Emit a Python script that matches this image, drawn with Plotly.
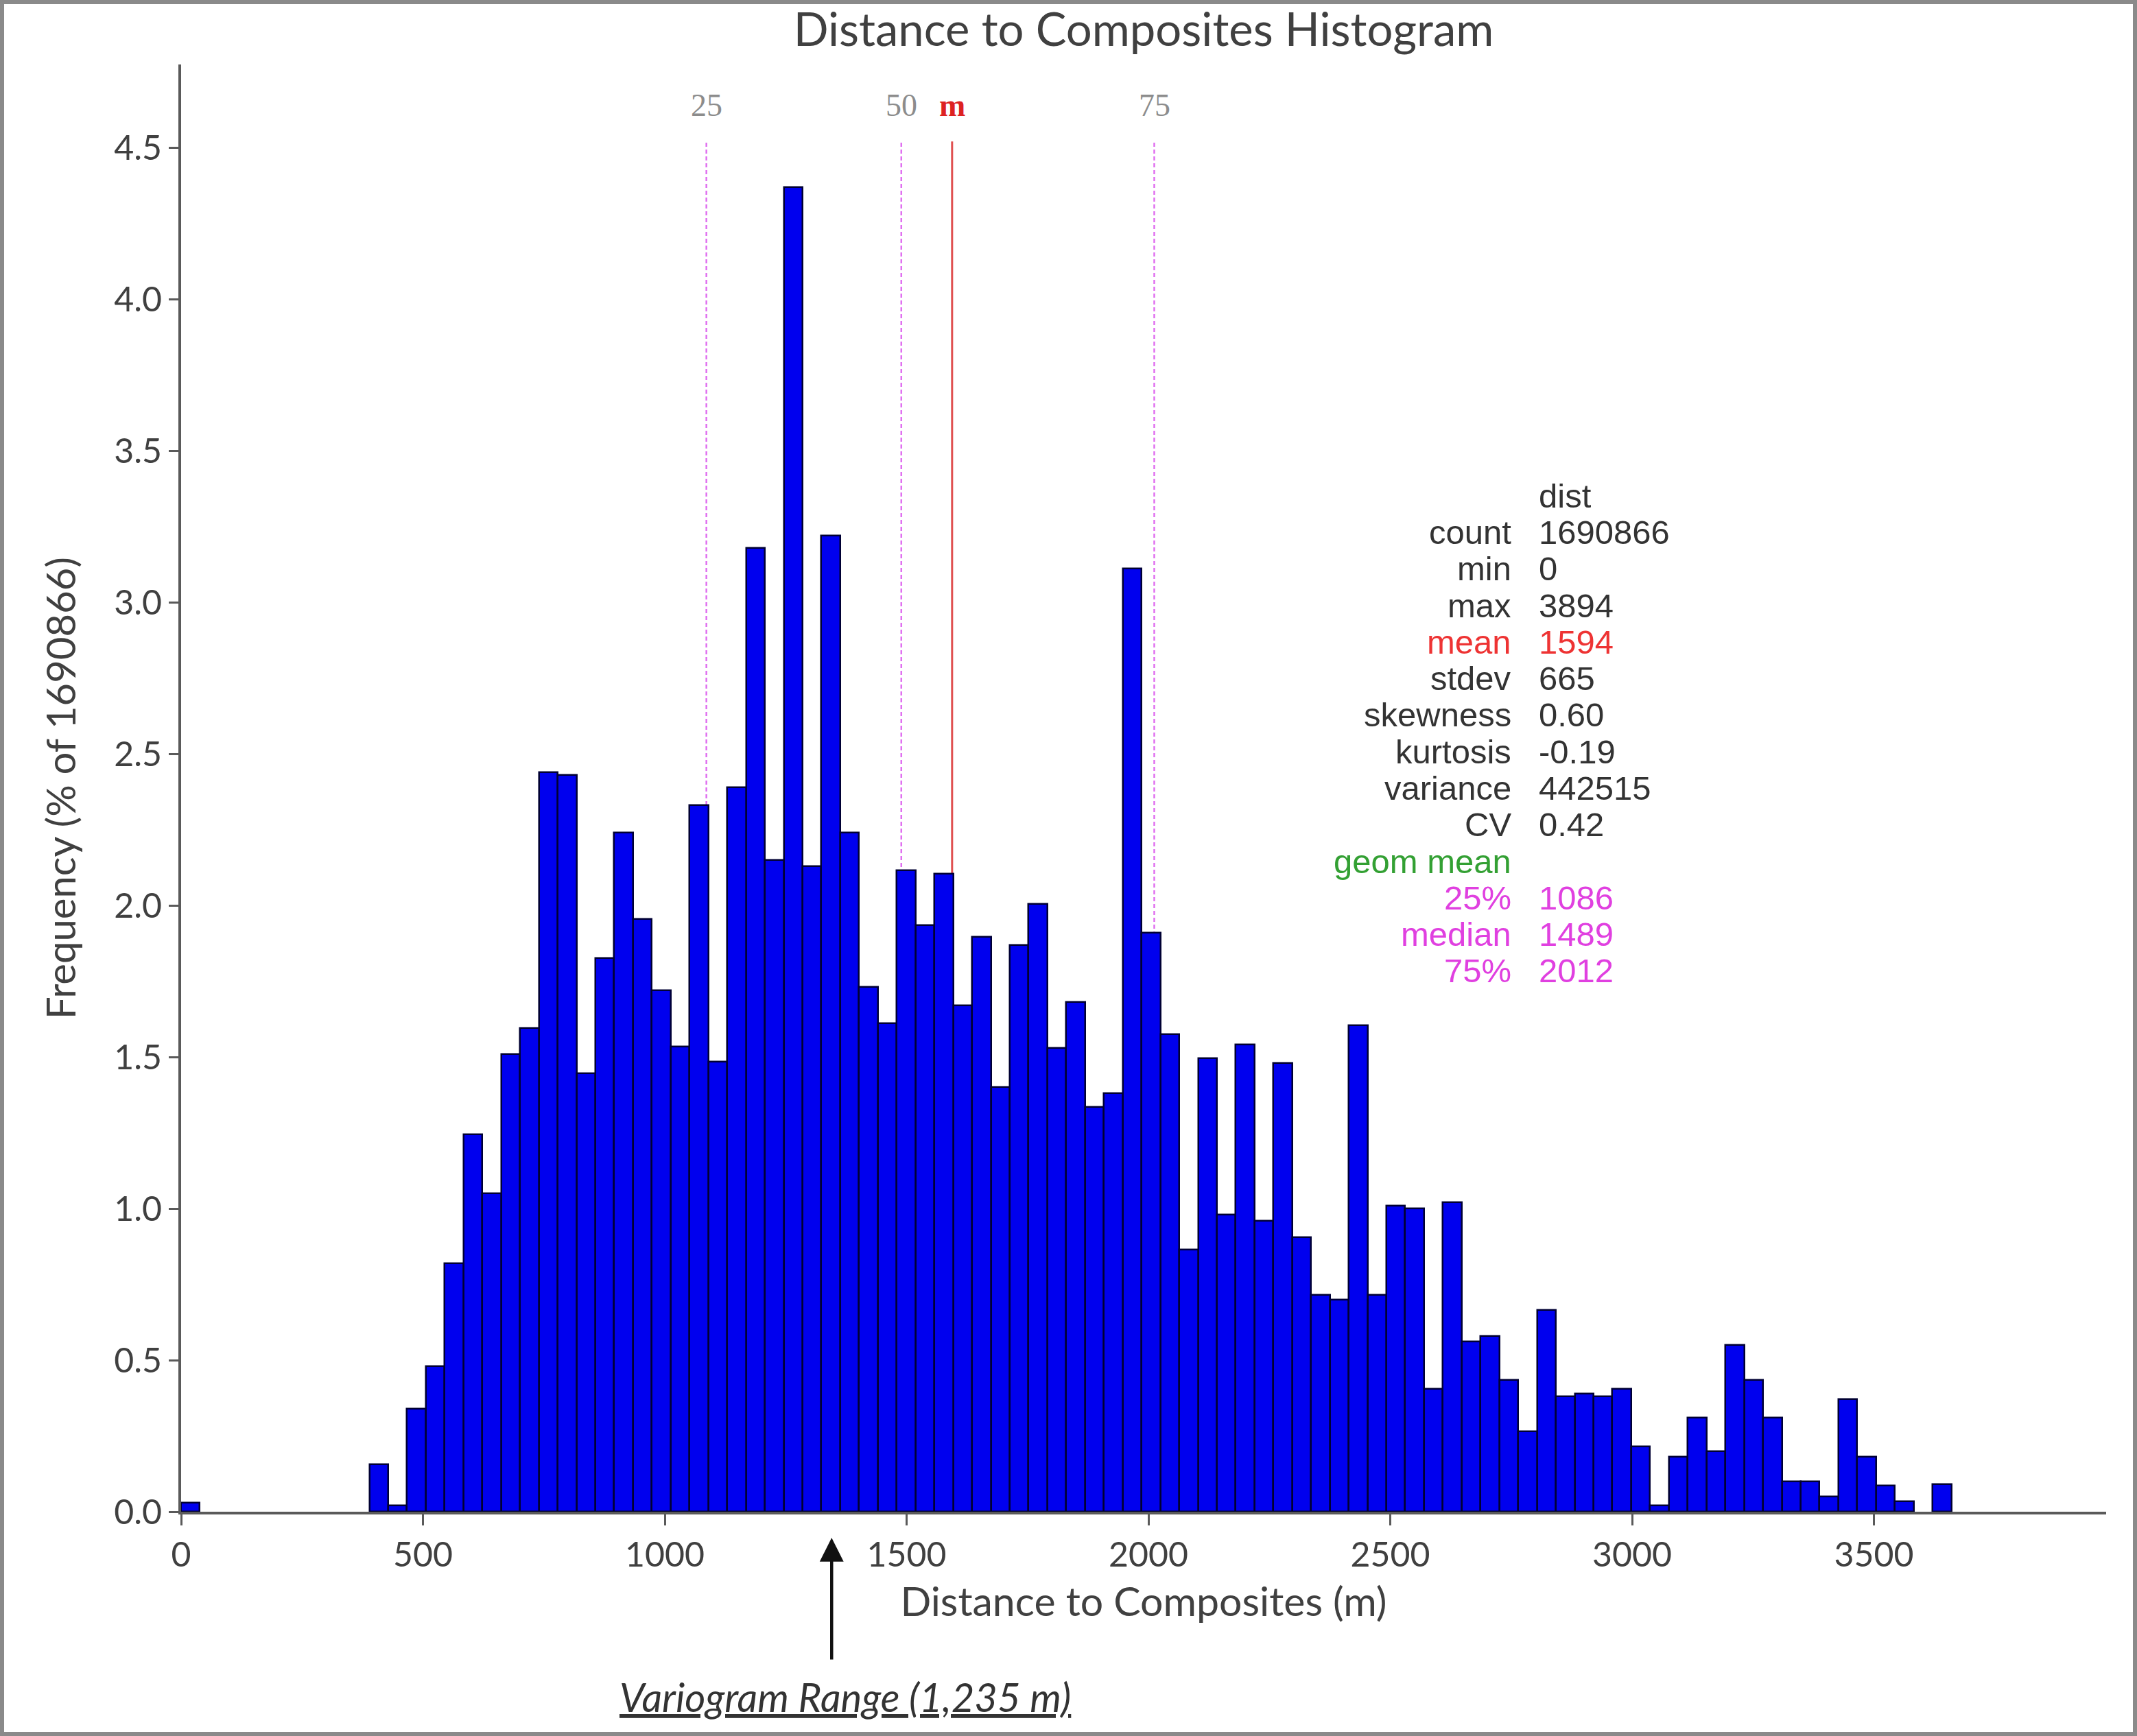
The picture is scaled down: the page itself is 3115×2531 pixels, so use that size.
import plotly.graph_objects as go

# ---------------- data ----------------
BIN_WIDTH = 38.94  # histogram bin width (m), 100 bins over 0..3894
bin_index = [0] + list(range(10, 94))
freq_pct = [
    0.03,
    0.156, 0.02, 0.34, 0.48, 0.82, 1.245, 1.05, 1.51, 1.595, 2.44,
    2.43, 1.445, 1.825, 2.24, 1.955, 1.72, 1.535, 2.33, 1.485, 2.39,
    3.18, 2.15, 4.37, 2.13, 3.22, 2.24, 1.73, 1.61, 2.115, 1.935,
    2.105, 1.67, 1.895, 1.40, 1.87, 2.005, 1.53, 1.68, 1.335, 1.38,
    3.11, 1.91, 1.575, 0.865, 1.495, 0.98, 1.54, 0.96, 1.48, 0.905,
    0.715, 0.70, 1.605, 0.715, 1.01, 1.00, 0.405, 1.02, 0.56, 0.58,
    0.435, 0.265, 0.665, 0.38, 0.39, 0.38, 0.405, 0.215, 0.02, 0.18,
    0.31, 0.20, 0.55, 0.435, 0.31, 0.10, 0.10, 0.05, 0.37, 0.18,
    0.085, 0.035, 0.0, 0.09,
]

x_ticks = [0, 500, 1000, 1500, 2000, 2500, 3000, 3500]
y_ticks = [0.0, 0.5, 1.0, 1.5, 2.0, 2.5, 3.0, 3.5, 4.0, 4.5]

marker_names = ["25", "50", "m", "75"]
marker_values = [1086, 1489, 1594, 2012]

stat_labels = ["count", "min", "max", "mean", "stdev", "skewness", "kurtosis",
               "variance", "CV", "geom mean", "25%", "median", "75%"]
stat_values = ["1690866", "0", "3894", "1594", "665", "0.60", "-0.19",
               "442515", "0.42", "", "1086", "1489", "2012"]

variogram_range_arrow_x = 1345
variogram_label = "Variogram Range (1,235 m)"

# ---------------- styles ----------------
W, H = 3115, 2531
ML, MR, MT, MB = 264, 45, 94, 327
PW, PH = W - ML - MR, H - MT - MB
X_MAX, Y_MAX = 3980, 4.774

TEXT_GRAY = "#404040"
AXIS_GRAY = "#5a5a5a"
BAR_BLUE = "#0000EE"
MAGENTA = "#e070f0"
RED_LINE = "#e05050"
stat_colors = ["#333333"] * 3 + ["#ee3333"] + ["#333333"] * 5 + ["#33a033"] + ["#e040e0"] * 3
marker_colors = ["#8c8c8c", "#8c8c8c", "#dd2222", "#8c8c8c"]
marker_line_colors = [MAGENTA, MAGENTA, RED_LINE, MAGENTA]
marker_dash = ["6px,4px", "6px,4px", "solid", "6px,4px"]
STAT_SIZE = 49

def py(full_y):
    """paper y from a pixel row of the figure"""
    return (H - MB - full_y) / PH

centers = [(i + 0.5) * BIN_WIDTH for i in bin_index]
heights = [v if v > 0 else None for v in freq_pct]

fig = go.Figure()
fig.add_trace(go.Bar(
    x=centers, y=heights, width=BIN_WIDTH,
    marker=dict(color=BAR_BLUE, line=dict(color="#000033", width=2.5)),
    showlegend=False, hoverinfo="x+y",
))

shapes = []
annotations = []

# quantile / mean lines
for name, val, col, lcol, dash in zip(marker_names, marker_values, marker_colors,
                                       marker_line_colors, marker_dash):
    shapes.append(dict(type="line", xref="x", yref="y", x0=val, x1=val, y0=0, y1=4.52,
                       line=dict(color=lcol, width=2.5 if dash != "solid" else 3, dash=dash),
                       layer="below"))
    annotations.append(dict(
        x=val, y=4.64, xref="x", yref="y", text=("<b>%s</b>" % name) if name == "m" else name,
        showarrow=False, xanchor="center", yanchor="middle",
        font=dict(family="Liberation Serif", size=46, color=col)))

# stats table
y0_stat = 3.351
step = 0.1205
annotations.append(dict(x=2804, y=y0_stat, xref="x", yref="y", text="dist", showarrow=False,
                        xanchor="left", yanchor="middle",
                        font=dict(family="Liberation Sans", size=STAT_SIZE, color="#333333")))
for k, (lab, val, col) in enumerate(zip(stat_labels, stat_values, stat_colors)):
    yy = y0_stat - (k + 1) * step
    annotations.append(dict(x=2753, y=yy, xref="x", yref="y", text=lab, showarrow=False,
                            xanchor="right", yanchor="middle",
                            font=dict(family="Liberation Sans", size=STAT_SIZE, color=col)))
    if val:
        annotations.append(dict(x=2804, y=yy, xref="x", yref="y", text=val, showarrow=False,
                                xanchor="left", yanchor="middle",
                                font=dict(family="Liberation Sans", size=STAT_SIZE, color=col)))

# variogram range arrow + label
annotations.append(dict(x=variogram_range_arrow_x, y=py(2242), xref="x", yref="paper",
                        ax=0, ay=179, axref="pixel", ayref="pixel", text="", showarrow=True,
                        arrowhead=2, arrowsize=1.55, arrowwidth=4.5, arrowcolor="#111111"))
annotations.append(dict(x=1373, y=py(2473), xref="x", yref="paper",
                        text="<i><u>%s</u></i>" % variogram_label, showarrow=False,
                        xanchor="center", yanchor="middle",
                        font=dict(family="Lato", size=58, color="#333333")))

# outer frame
shapes.append(dict(type="rect", xref="paper", yref="paper",
                   x0=-ML / PW, x1=1 + MR / PW, y0=-MB / PH, y1=1 + MT / PH,
                   line=dict(color="#8a8a8a", width=12), fillcolor="rgba(0,0,0,0)"))

fig.update_layout(
    width=W, height=H,
    margin=dict(l=ML, r=MR, t=MT, b=MB, pad=0),
    paper_bgcolor="white", plot_bgcolor="white",
    bargap=0,
    title=dict(text="Distance to Composites Histogram", x=0.5, xref="paper",
               y=1 - 44 / H, yref="container", xanchor="center", yanchor="middle",
               font=dict(family="Lato", size=67, color=TEXT_GRAY)),
    xaxis=dict(range=[0, X_MAX], tickvals=x_ticks, ticks="outside", ticklen=16, tickwidth=3,
               tickcolor=AXIS_GRAY, showline=True, linecolor=AXIS_GRAY, linewidth=4,
               showgrid=False, zeroline=False,
               tickfont=dict(family="Lato", size=50, color=TEXT_GRAY),
               title=dict(text="Distance to Composites (m)", standoff=22,
                          font=dict(family="Lato", size=59, color=TEXT_GRAY))),
    yaxis=dict(range=[0, Y_MAX], tickvals=y_ticks, tickformat=".1f", ticks="outside",
               ticklen=14, tickwidth=3, tickcolor=AXIS_GRAY, showline=True,
               linecolor=AXIS_GRAY, linewidth=4, showgrid=False, zeroline=False,
               tickfont=dict(family="Lato", size=50, color=TEXT_GRAY),
               title=dict(text="Frequency (% of 1690866)", standoff=38,
                          font=dict(family="Lato", size=58, color=TEXT_GRAY))),
    shapes=shapes,
    annotations=annotations,
)

fig.write_html("out.html", config={"displayModeBar": False},
               post_script="document.body.style.margin='0';document.body.style.overflow='hidden';")
